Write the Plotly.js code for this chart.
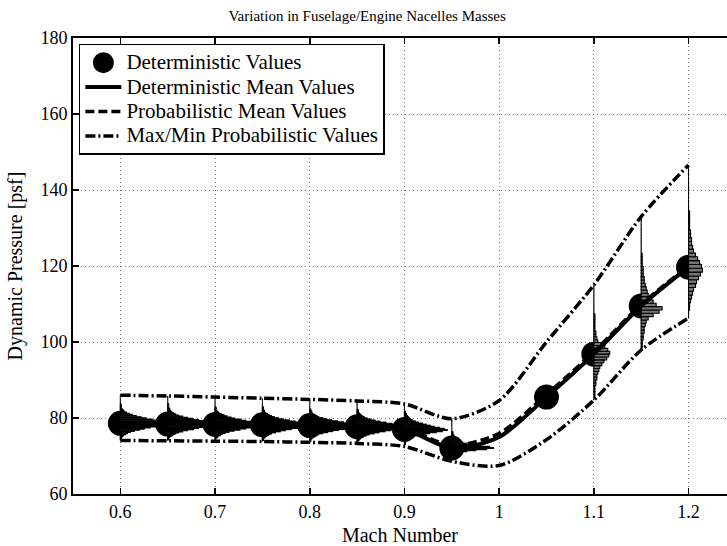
<!DOCTYPE html>
<html><head><meta charset="utf-8">
<script src="https://cdn.plot.ly/plotly-3.0.1.min.js"></script>
<style>html,body{margin:0;padding:0;background:#fff;overflow:hidden}#chart{width:727px;height:546px}</style>
</head><body><div id="chart"></div>
<script>
// ---- data ----
const mach = [0.6, 0.65, 0.7, 0.75, 0.8, 0.85, 0.9, 0.95, 1.0, 1.05, 1.1, 1.15, 1.2];
const deterministicValues = [78.6, 78.4, 78.3, 78.2, 78.0, 77.7, 77.0, 72.1, null, 85.5, 96.8, 109.5, 119.7];
const deterministicMean   = [78.6, 78.4, 78.3, 78.2, 78.0, 77.7, 77.0, 72.1, 75.0, 85.5, 96.8, 109.5, 119.7];
const probabilisticMean   = [78.8, 78.6, 78.5, 78.4, 78.2, 77.9, 77.3, 72.8, 76.0, 86.2, 97.4, 109.9, 120.0];
const maxProbabilistic    = [86.0, 85.8, 85.5, 85.2, 84.9, 84.5, 83.7, 79.8, 84.6, 100.0, 115.0, 133.0, 146.6];
const minProbabilistic    = [74.1, 74.0, 73.9, 73.8, 73.6, 73.3, 72.5, 68.6, 67.5, 74.3, 84.7, 97.9, 106.3];

// histogram counts (bins span min..max at each Mach number)
const histMach = [0.6, 0.65, 0.7, 0.75, 0.8, 0.85, 0.9, 0.95, 1.1, 1.15, 1.2];
const hist060 = [0,1,1,2,3,5,7,10,14,19,24,30,36,41,46,47,43,38,32,26,21,16,12,9,6,4,3,2,1,1,1,1,0,0,0,0,0,0,0,0];
const hist065 = [0,1,1,2,4,5,8,11,15,20,26,31,37,42,45,46,42,36,31,25,20,15,11,8,6,4,3,2,2,1,1,0,1,0,0,0,0,0,0,0];
const hist070 = [0,0,1,2,3,5,7,10,14,19,25,31,36,41,45,45,42,37,31,26,20,16,12,9,6,4,3,2,1,1,1,0,0,0,0,0,0,0,0,0];
const hist075 = [0,1,1,2,3,4,6,9,13,18,23,29,35,40,44,46,43,38,33,27,21,16,12,9,6,5,3,2,2,1,1,1,0,0,0,0,0,0,0,0];
const hist080 = [0,1,1,2,3,5,7,9,13,18,23,29,35,40,44,47,45,40,34,28,22,17,13,9,7,5,3,2,2,1,1,0,0,0,0,0,0,0,0,0];
const hist085 = [0,1,1,2,3,4,6,9,12,17,22,28,34,39,43,45,44,40,35,29,23,18,14,10,7,5,4,3,2,1,1,1,0,0,0,0,0,0,0,0];
const hist090 = [0,0,1,1,1,2,3,5,7,10,14,19,25,32,38,43,40,35,30,26,22,18,14,11,8,6,5,4,3,2,2,1,1,0,0,0,0,0,0,0];
const hist095 = [0,0,1,1,1,2,3,5,9,15,24,35,42,38,28,20,15,11,8,6,5,4,3,2,2,1,1,1,0,0,0,0,0,0,0,0,0,0,0,0];
const hist110 = [0,1,1,1,1,2,2,3,3,4,5,6,8,10,13,15,16,14,11,7,4,3,2,2,1,1,1,1,1,1,0,0,0,0,0,0,0,0,0,0];
const hist115 = [1,1,1,2,2,3,3,4,5,7,12,18,21,15,12,9,7,6,5,4,3,3,2,2,2,1,1,1,1,0,0,0,0,0,0,0,0,0,0,0];
const hist120 = [0,0,1,1,2,3,4,5,7,8,10,12,14,13,11,9,7,5,4,3,3,2,2,1,1,1,1,1,0,0,0,0,0,0,0,0,0,0,0,0];
const histCounts = [hist060, hist065, hist070, hist075, hist080, hist085, hist090, hist095, hist110, hist115, hist120];

const legendNames = ['Deterministic Values', 'Deterministic Mean Values', 'Probabilistic Mean Values', 'Max/Min Probabilistic Values'];

// ---- drawing ----
const HIST_SCALE = 0.00105;   // Mach-axis length of one count
const XR = [0.55, 1.2406], YR = [60, 180];
const FAM = 'Liberation Serif, Times New Roman, Times, serif';
const F = (size) => ({family:FAM, size:size, color:'black'});
const lbl = s => '<span style="font-size:21px">' + s + '</span>';

const traces = [];

// thin vertical stems of every histogram (min..max)
histMach.forEach((m) => {
  const i = mach.indexOf(m);
  traces.push({type:'scatter', mode:'lines', x:[m, m], y:[minProbabilistic[i], maxProbabilistic[i]],
    line:{color:'#b4b4b4', width:1}, showlegend:false, hoverinfo:'skip', xaxis:'x', yaxis:'y'});
});

// deterministic values (big dots) on the base subplot
traces.push({type:'scatter', mode:'markers', x:mach, y:deterministicValues, name:lbl(legendNames[0]),
  marker:{symbol:'circle', size:20, color:'black', line:{color:'black', width:5}}, legendrank:1, xaxis:'x', yaxis:'y'});

// histograms drawn above the dots (overlay subplot)
histMach.forEach((m, k) => {
  const i = mach.indexOf(m);
  const lo = minProbabilistic[i], hi = maxProbabilistic[i];
  const counts = histCounts[k];
  const step = (hi - lo) / counts.length;
  traces.push({type:'bar', orientation:'h',
    y: counts.map((c, j) => lo + (j + 0.5) * step),
    x: counts.map(c => c * HIST_SCALE),
    base: m, width: step,
    marker:{color:'#767676', line:{color:'black', width:1.1}},
    showlegend:false, hoverinfo:'skip', xaxis:'x2', yaxis:'y2'});
});

traces.push({type:'scatter', mode:'lines', x:mach, y:deterministicMean, name:lbl(legendNames[1]),
  line:{color:'black', width:4, shape:'spline', smoothing:0.8}, legendrank:2, xaxis:'x2', yaxis:'y2'});
traces.push({type:'scatter', mode:'lines', x:mach, y:probabilisticMean, name:lbl(legendNames[2]),
  line:{color:'black', width:3.5, dash:'9px,4px', shape:'spline', smoothing:0.8}, legendrank:3, xaxis:'x2', yaxis:'y2'});
traces.push({type:'scatter', mode:'lines', x:mach, y:maxProbabilistic, name:lbl(legendNames[3]), legendgroup:'mm',
  line:{color:'black', width:3.5, dash:'10px,3px,2px,3px', shape:'spline', smoothing:0.8}, legendrank:4, xaxis:'x2', yaxis:'y2'});
traces.push({type:'scatter', mode:'lines', x:mach, y:minProbabilistic, name:lbl(legendNames[3]), legendgroup:'mm', showlegend:false,
  line:{color:'black', width:3.5, dash:'10px,3px,2px,3px', shape:'spline', smoothing:0.8}, xaxis:'x2', yaxis:'y2'});

const axCommon = {ticks:'inside', ticklen:6, tickwidth:1.5, tickcolor:'black', showline:true, linewidth:2,
  linecolor:'black', showgrid:true, gridcolor:'#7a7a7a', griddash:'1px,3px', gridwidth:1, zeroline:false,
  tickfont:F(18)};

const layout = {
  width:727, height:546,
  margin:{l:73, r:0, t:38, b:52, pad:0},
  paper_bgcolor:'white', plot_bgcolor:'white',
  font:F(18),
  title:{text:'Variation in Fuselage/Engine Nacelles Masses', font:F(15),
    x:0.505, xref:'container', xanchor:'center', y:0.972, yref:'container', yanchor:'middle'},
  xaxis:Object.assign({}, axCommon, {range:XR, dtick:0.1, tick0:0, mirror:'ticks',
    title:{text:'Mach Number', font:F(20)}}),
  yaxis:Object.assign({}, axCommon, {range:YR, dtick:20, tick0:0, mirror:false,
    title:{text:'Dynamic Pressure [psf]', font:F(20)}}),
  xaxis2:{overlaying:'x', anchor:'y2', range:XR, visible:false},
  yaxis2:{overlaying:'y', anchor:'x2', range:YR, visible:false},
  barmode:'overlay',
  showlegend:true,
  legend:{x:0.009, y:0.987, xref:'paper', yref:'paper', xanchor:'left', yanchor:'top', bgcolor:'white',
    bordercolor:'black', borderwidth:1.5, font:F(16.5), itemwidth:36, traceorder:'normal'}
};

Plotly.newPlot('chart', traces, layout, {displayModeBar:false, staticPlot:true});
</script>
</body></html>
